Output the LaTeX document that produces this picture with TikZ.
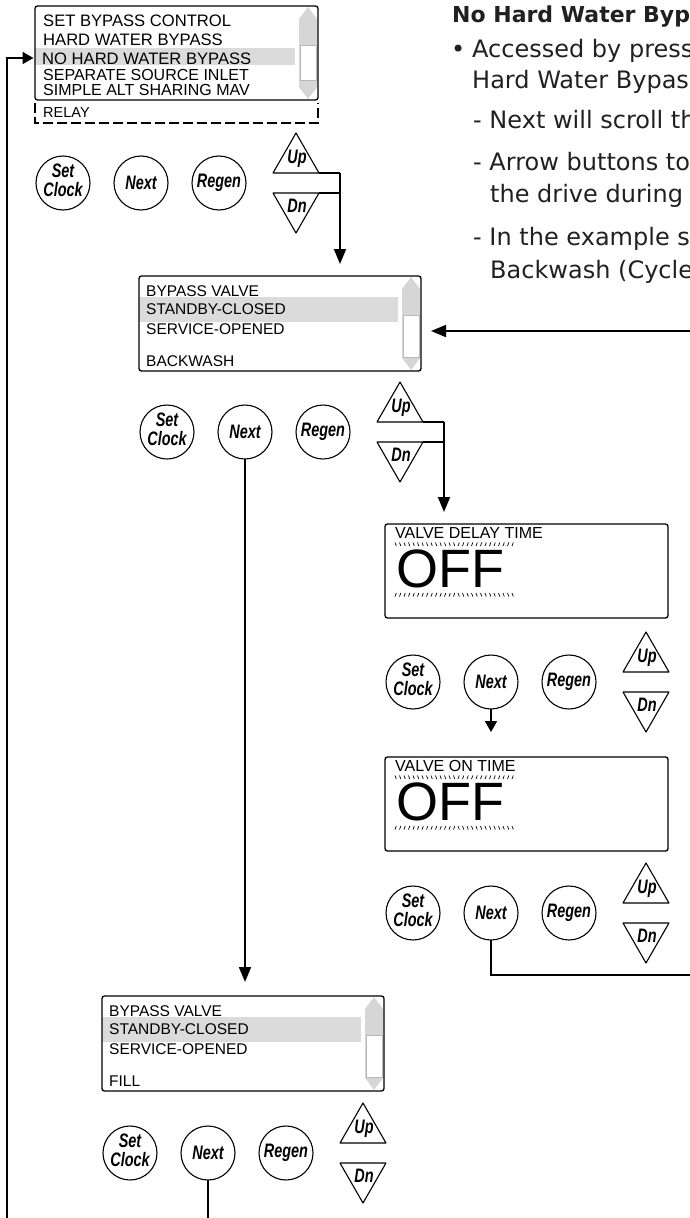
\documentclass[tikz,border=0pt]{standalone}
\usepackage{fontspec}
\setmainfont{Liberation Sans}
\newfontfamily\dvs{DejaVu Sans}
\usetikzlibrary{arrows.meta}
\definecolor{hl}{gray}{0.86}
\definecolor{sb}{gray}{0.84}
\definecolor{ink}{HTML}{231F20}
\tikzset{
  scr/.style={draw, line width=1.3pt, rounded corners=2.5pt, anchor=north west, inner sep=0pt, outer sep=0pt},
  btn/.style={draw, circle, line width=1.1pt, minimum size=54pt, inner sep=0pt, outer sep=0pt},
  blbl/.style={inner sep=0pt, font=\fontsize{19.5}{17.5}\selectfont\bfseries\itshape},
  tri/.style={draw, line width=1.1pt, line join=round},
  conn/.style={line width=1.7pt},
  arr/.style={conn, -{Triangle[width=12pt,length=15pt]}},
  arrs/.style={conn, -{Triangle[width=12pt,length=11pt]}},
  wbox/.style={fill=white, draw=gray!55, line width=0.6pt},
  stxt/.style={anchor=base west, inner sep=0pt, font=\fontsize{16.6}{19}\selectfont},
  stxtb/.style={anchor=base west, inner sep=0pt, font=\fontsize{16}{17}\selectfont},
  ltxt/.style={anchor=base west, inner sep=0pt, font=\fontsize{15.5}{18}\selectfont},
  vtxt/.style={anchor=base west, inner sep=0pt, font=\fontsize{16}{18}\selectfont},
  offtxt/.style={anchor=base west, inner sep=0pt, font=\fontsize{54}{60}\selectfont},
  rtxt/.style={anchor=base west, inner sep=0pt, text=ink, font=\dvs\fontsize{24}{28}\selectfont},
  tick/.style={line width=0.7pt},
  dashbox/.style={line width=1.2pt, dash pattern=on 10pt off 4pt}
}
% list screen: name, sx, sy, w, h, hl top, hl bottom, white top, white bottom
\newcommand\lstscr[9]{%
  \fill[hl] (#2,#3+#6) rectangle (#2+#4-23,#3+#7);
  \fill[sb] (#2+#4-10,#3+1) -- (#2+#4-1,#3+13) -- (#2+#4-1,#3+#5-13) -- (#2+#4-10,#3+#5-1)
     -- (#2+#4-19,#3+#5-13) -- (#2+#4-19,#3+13) -- cycle;
  \draw[wbox] (#2+#4-18,#3+#8) rectangle (#2+#4-2,#3+#9);
  \node[scr, minimum width=#4, minimum height=#5] (#1) at (#2,#3) {};
}
% value screen: name, sx, sy, title
\newcommand\valscr[4]{%
  \node[scr, minimum width=283, minimum height=94] (#1) at (#2,#3) {};
  \node[vtxt] (#1t) at (#2+10,#3+14) {#4};
  \node[offtxt] (#1v) at (#2+11,#3+63) {OFF};
  \foreach \i in {0,...,13} \draw[tick] (#2+10+\i*4.5,#3+18.5) -- ++(1.3,3.5);
  \foreach \i in {14,...,26} \draw[tick] (#2+11.3+\i*4.5,#3+18.5) -- ++(-1.3,3.5);
  \foreach \i in {0,...,13} \draw[tick] (#2+11.3+\i*4.5,#3+69) -- ++(-1.3,3.5);
  \foreach \i in {14,...,26} \draw[tick] (#2+10+\i*4.5,#3+69) -- ++(1.3,3.5);
}
% button row: id, sx, by
\newcommand\btnrow[3]{%
  \node[btn] (sc#1) at (#2+28,#3) {};
  \node[blbl] (sct#1) at (sc#1) {\scalebox{0.74}[1]{\begin{tabular}{@{}c@{}}Set\\Clock\end{tabular}}};
  \node[btn] (nx#1) at (#2+106,#3) {};
  \node[blbl] (nxt#1) at (nx#1) {\scalebox{0.74}[1]{Next}};
  \node[btn] (rg#1) at (#2+184,#3) {};
  \node[blbl] (rgt#1) at (rg#1) {\scalebox{0.74}[1]{Regen}};
  \coordinate (upA#1) at (#2+261,#3-50);
  \coordinate (upL#1) at (#2+238,#3-10);
  \coordinate (upR#1) at (#2+284,#3-10);
  \coordinate (dnA#1) at (#2+261,#3+50);
  \coordinate (dnL#1) at (#2+238,#3+10);
  \coordinate (dnR#1) at (#2+284,#3+10);
  \draw[tri] (upA#1) -- (upR#1) -- (upL#1) -- cycle;
  \draw[tri] (dnA#1) -- (dnR#1) -- (dnL#1) -- cycle;
  \node[blbl] (upt#1) at (#2+262,#3-24) {\scalebox{0.74}[1]{Up}};
  \node[blbl] (dnt#1) at (#2+262,#3+23) {\scalebox{0.74}[1]{Dn}};
}
\begin{document}
\begin{tikzpicture}[x=1pt,y=-1pt]
\useasboundingbox (0,0) rectangle (690,1218);
\clip (0,0) rectangle (690,1218);

% ---------- screen 1
\lstscr{scr1}{35}{6}{283}{94}{42}{59}{39}{74}
\draw[dashbox] (35,103) -- (35,123) -- (318,123) -- (318,103);
\node[stxt] (s1a) at (43,26) {SET BYPASS CONTROL};
\node[stxt] (s1b) at (43,45.5) {HARD WATER BYPASS};
\node[stxt] (s1c) at (42,64.5) {NO HARD WATER BYPASS};
\node[stxtb] (s1d) at (43,80.5) {SEPARATE SOURCE INLET};
\node[stxtb] (s1e) at (43,95) {SIMPLE ALT SHARING MAV};
\node[stxt, font=\fontsize{14.5}{16}\selectfont] (s1f) at (43,117) {RELAY};
\btnrow{1}{35}{183}

% ---------- screen 2
\lstscr{scr2}{139}{276}{282}{95}{21}{46}{39}{81}
\node[ltxt] (s2a) at (146,296) {BYPASS VALVE};
\node[ltxt] (s2b) at (146,314) {STANDBY-CLOSED};
\node[ltxt] (s2c) at (146,334) {SERVICE-OPENED};
\node[ltxt] (s2d) at (146,366) {BACKWASH};
\btnrow{2}{139}{432}

% ---------- screens 3 and 4
\valscr{scr3}{385}{524}{VALVE DELAY TIME}
\btnrow{3}{385}{682}
\valscr{scr4}{385}{757}{VALVE ON TIME}
\btnrow{4}{385}{913}

% ---------- screen 5
\lstscr{scr5}{102}{996}{282}{95}{21}{46}{39}{81}
\node[ltxt] (s5a) at (109,1016) {BYPASS VALVE};
\node[ltxt] (s5b) at (109,1034) {STANDBY-CLOSED};
\node[ltxt] (s5c) at (109,1054) {SERVICE-OPENED};
\node[ltxt] (s5d) at (109,1086) {FILL};
\btnrow{5}{102}{1153}

% ---------- right-hand text
\node[rtxt, font=\dvs\bfseries\fontsize{22}{26}\selectfont] (t0) at (452,23) {No Hard Water Bypass};
\node[rtxt] (tb) at (451,57) {•};
\node[rtxt] (t1) at (472,57) {Accessed by pressing};
\node[rtxt] (t2) at (472,88) {Hard Water Bypass};
\node[rtxt] (t3) at (473,128) {- Next will scroll the};
\node[rtxt] (t4) at (473,170) {- Arrow buttons toggle};
\node[rtxt] (t5) at (490,202) {the drive during the};
\node[rtxt] (t6) at (473,245) {- In the example screen};
\node[rtxt] (t7) at (490,278) {Backwash (Cycle 1)};

% ---------- connectors
\coordinate (j1) at (340,173);
\draw[conn] (upR1) -- (j1);
\draw[conn] (dnR1) -- (dnR1 -| j1);
\draw[arr, shorten >=12pt] (j1) -- (j1 |- scr2.north);

\coordinate (j2) at (444,422);
\draw[conn] (upR2) -- (j2);
\draw[conn] (dnR2) -- (dnR2 -| j2);
\draw[arr, shorten >=12pt] (j2) -- (j2 |- scr3.north);

\draw[arr, shorten >=14pt] (nx2.south) -- (nx2.south |- scr5.north);
\draw[arrs, shorten >=25pt] (nx3.south) -- (nx3.south |- scr4.north);

\coordinate (r4) at (700,975);
\draw[conn] (nx4.south) |- (r4);
\coordinate (r2) at (700,331);
\draw[arr, shorten >=10pt] (r2) -- (r2 -| scr2.east);

\coordinate (b5) at (208,1230);
\draw[conn] (nx5.south) -- (nx5.south |- b5);

\coordinate (lb) at (7,1230);
\draw[arrs, shorten >=1.5pt] (lb) |- ([yshift=-5pt]scr1.west);
\end{tikzpicture}
\end{document}
